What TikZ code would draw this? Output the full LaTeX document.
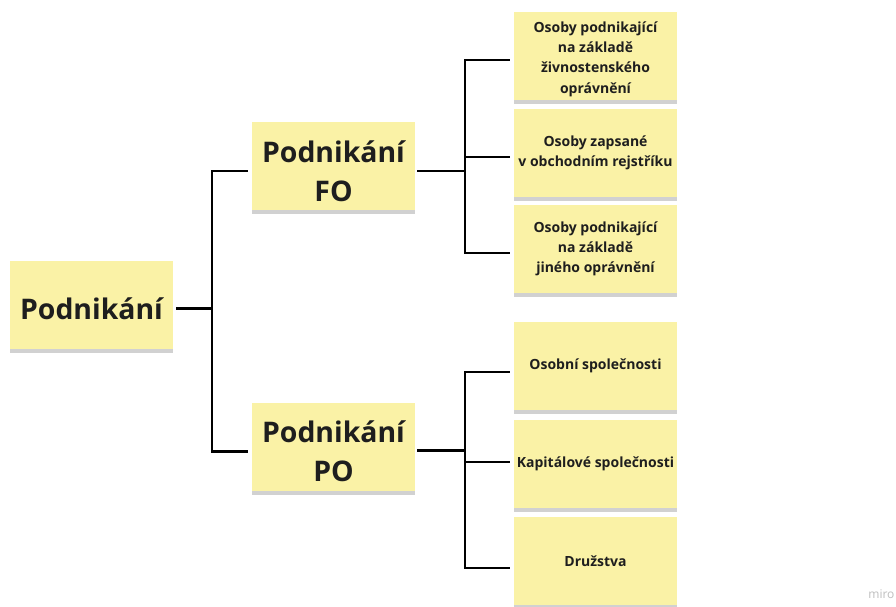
\documentclass[tikz,border=0pt]{standalone}
\usepackage{fontspec}
\setmainfont{Open Sans}
\usetikzlibrary{shadows}
\definecolor{sticky}{HTML}{FAF2A6}
\definecolor{ink}{HTML}{1E1E1E}
\newcommand\stk[2][0pt]{\raisebox{-#1}[\height][\depth]{\parbox{160pt}{\centering #2}}}
\tikzset{
  note/.style={draw=none, fill=sticky, minimum width=163pt, minimum height=88pt,
    text=ink, inner sep=1pt,
    drop shadow={shadow xshift=0pt, shadow yshift=-4pt, opacity=0.18, fill=black}},
  bignote/.style={note, font=\bfseries\fontsize{28.4}{39}\selectfont},
  smallnote/.style={note, font=\bfseries\fontsize{14}{20.3}\selectfont},
  conn/.style={draw=black, line width=2.3pt, shorten >=4pt},
}
\begin{document}
\begin{tikzpicture}[x=1pt, y=-1pt]
\useasboundingbox (0,0) rectangle (896,606);
\fill[white] (0,0) rectangle (896,606);

\node[bignote] (root) at (91.5,304.5) {\stk[4.5pt]{Podnikání}};
\node[bignote] (fo) at (333.5,166) {\stk[5pt]{Podnikání\\FO}};
\node[bignote] (po) at (333.5,446.5) {\stk[5pt]{Podnikání\\PO}};

\node[smallnote] (f1) at (595.5,56) {\stk[3pt]{Osoby podnikající\\na základě\\živnostenského\\oprávnění}};
\node[smallnote] (f2) at (595.5,153) {\stk{Osoby zapsané\\v obchodním rejstříku}};
\node[smallnote] (f3) at (595.5,249) {\stk{Osoby podnikající\\na základě\\jiného oprávnění}};

\node[smallnote] (p1) at (595.5,366) {\stk{Osobní společnosti}};
\node[smallnote] (p2) at (595.5,464) {\stk{Kapitálové společnosti}};
\node[smallnote] (p3) at (595.5,561) {\stk{Družstva}};

\draw[conn, shorten >=0pt] ([xshift=3pt,yshift=-4pt]root.east) -- ++(36,0) coordinate (j1);
\draw[conn] (j1) |- ([yshift=-5pt]fo.west);
\draw[conn] (j1) |- ([yshift=-5pt]po.west);

\draw[conn, shorten >=0pt] ([xshift=2pt,yshift=-5pt]fo.east) -- ++(48,0) coordinate (j2);
\draw[conn] (j2) |- ([yshift=-4pt]f1.west);
\draw[conn] (j2) |- ([yshift=-4pt]f2.west);
\draw[conn] (j2) |- ([yshift=-4pt]f3.west);

\draw[conn, shorten >=0pt] ([xshift=2pt,yshift=-4pt]po.east) -- ++(48,0) coordinate (j3);
\draw[conn] (j3) |- ([yshift=-6pt]p1.west);
\draw[conn] (j3) |- ([yshift=2pt]p2.west);
\draw[conn] (j3) |- ([yshift=-7pt]p3.west);

\node[text=black!25, font=\fontsize{12}{13}\selectfont, anchor=east] (miro) at (898,594) {miro};
\end{tikzpicture}
\end{document}
